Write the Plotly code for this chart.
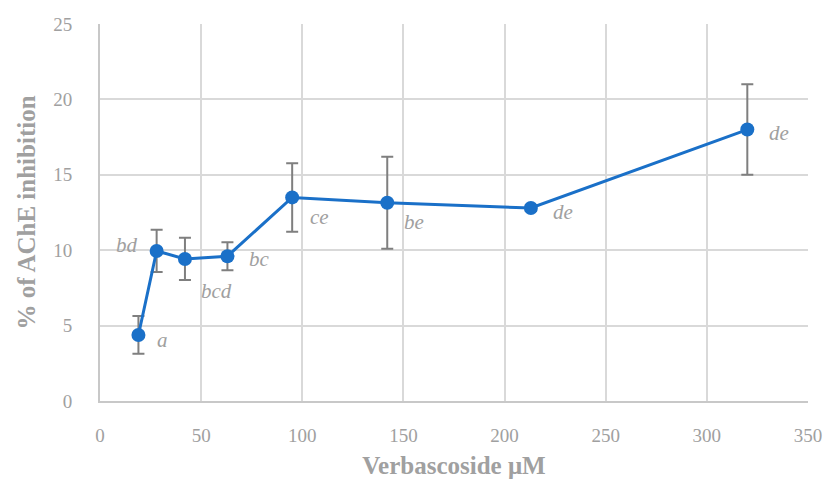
import plotly.graph_objects as go

conc = [19, 28, 42, 63, 95, 142, 213, 320]
inhibition = [4.38, 9.95, 9.42, 9.6, 13.5, 13.15, 12.8, 18.0]
err = [1.25, 1.4, 1.4, 0.93, 2.27, 3.05, 0.2, 3.0]
letters = ["a", "bd", "bcd", "bc", "ce", "be", "de", "de"]
# label offsets (data units) relative to each point
lab_dx = [12, -14.5, 15.8, 15.8, 13.3, 13, 15.8, 15.8]
lab_dy = [-0.33, 0.4, -2.1, -0.2, -1.3, -1.3, -0.27, -0.2]

font_fam = "Palatino Linotype, Book Antiqua, Palatino, Liberation Serif, serif"
gray = "#a0a0a0"

fig = go.Figure()
fig.add_trace(go.Scatter(
    x=conc, y=inhibition, mode="lines+markers",
    line=dict(color="#1a70c8", width=3),
    marker=dict(color="#1a70c8", size=14),
    error_y=dict(type="data", array=err, visible=True, color="#7f7f7f",
                 thickness=2, width=6),
    showlegend=False,
))
for x, y, t, dx, dy in zip(conc, inhibition, letters, lab_dx, lab_dy):
    fig.add_annotation(x=x + dx, y=y + dy, text=t, showarrow=False,
                       xanchor="center", yanchor="middle",
                       font=dict(family=font_fam, size=21, color=gray,
                                 style="italic"))

fig.update_layout(
    width=827, height=485,
    margin=dict(l=100, r=19, t=24, b=84),
    paper_bgcolor="white", plot_bgcolor="white",
    font=dict(family=font_fam, color=gray),
    xaxis=dict(range=[0, 350], dtick=50, showgrid=True, gridcolor="#d9d9d9",
               gridwidth=2, zeroline=False, showline=True, linecolor="#c8c8c8",
               linewidth=2, ticks="", automargin=False,
               ticklabelstandoff=16,
               tickfont=dict(family=font_fam, size=19, color=gray),
               title=dict(text="<b>Verbascoside μM</b>", standoff=12,
                          font=dict(family=font_fam, size=25, color=gray))),
    yaxis=dict(range=[0, 25], dtick=5, showgrid=True, gridcolor="#d9d9d9",
               gridwidth=2, zeroline=False, showline=True, linecolor="#c8c8c8",
               linewidth=2, ticks="", automargin=False,
               ticklabelstandoff=22,
               tickfont=dict(family=font_fam, size=19, color=gray),
               title=dict(text="<b>% of AChE inhibition</b>", standoff=10,
                          font=dict(family=font_fam, size=25, color=gray))),
)
fig.write_html(
    "out.html",
    config={"displayModeBar": False},
    post_script="document.body.style.margin='0';document.body.style.overflow='hidden';",
)
